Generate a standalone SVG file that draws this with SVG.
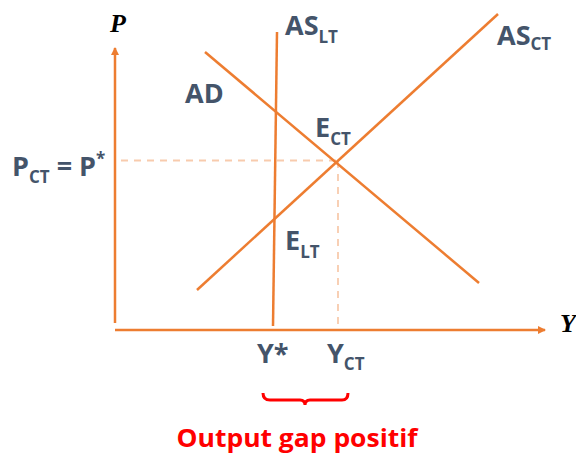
<svg xmlns="http://www.w3.org/2000/svg" width="576" height="454" viewBox="0 0 576 454">
<style>
.ln{stroke:#ED7D31;stroke-width:2.5;fill:none}
.dash{stroke:#F8CBAD;stroke-width:1.8;stroke-dasharray:7,6;fill:none}
.lbl{font-family:"Open Sans","Liberation Sans",sans-serif;font-weight:bold;fill:#44546A;font-size:27px}
.sub{font-size:17px}
.ax{font-family:"Liberation Serif",serif;font-style:italic;font-weight:bold;font-size:26px;fill:#000}
</style>
<defs>
<marker id="arr" markerWidth="8" markerHeight="8" refX="7" refY="4" orient="auto" markerUnits="userSpaceOnUse">
<path d="M0,0 L8,4 L0,8 Z" fill="#ED7D31"/>
</marker>
</defs>
<rect width="576" height="454" fill="#fff"/>
<g id="connectors">
<line class="dash" x1="121" y1="160.5" x2="338" y2="160.5"/>
<line class="dash" x1="338" y1="161" x2="338" y2="329"/>
<line class="ln" x1="115" y1="323" x2="115" y2="48" marker-end="url(#arr)"/>
<line class="ln" x1="115" y1="330" x2="545" y2="330" marker-end="url(#arr)"/>
<line id="as-lt" class="ln" x1="277" y1="32" x2="273" y2="326"/>
<line id="ad" class="ln" x1="205" y1="52" x2="479" y2="283"/>
<line id="as-ct" class="ln" x1="197" y1="290" x2="498" y2="14"/>
</g>
<g id="axis-p"><text class="ax" x="110" y="32">P</text></g>
<g id="axis-y"><text class="ax" x="560" y="332">Y</text></g>
<g id="label-aslt"><text class="lbl" x="285" y="35">AS<tspan class="sub" dy="8">LT</tspan></text></g>
<g id="label-asct"><text class="lbl" x="497" y="45">AS<tspan class="sub" dy="5">CT</tspan></text></g>
<g id="label-ad"><text class="lbl" x="185" y="103">AD</text></g>
<g id="label-ect"><text class="lbl" x="315" y="137">E<tspan class="sub" dy="8">CT</tspan></text></g>
<g id="label-elt"><text class="lbl" x="285" y="250">E<tspan class="sub" dy="8">LT</tspan></text></g>
<g id="label-pct"><text class="lbl" x="12" y="176" font-size="29">P<tspan class="sub" dy="7">CT</tspan><tspan dy="-7"> = P</tspan><tspan class="sub" dy="-11">*</tspan></text></g>
<g id="label-ystar"><text class="lbl" x="257" y="363" font-size="23">Y*</text></g>
<g id="label-yct"><text class="lbl" x="327" y="363" font-size="23">Y<tspan class="sub" dy="7">CT</tspan></text></g>
<g id="gap">
<path d="M263,393 Q263,400 270,400 L300,400 Q305,400 305,405 Q305,400 310,400 L342,400 Q348,400 348,393" stroke="#FF0000" stroke-width="3" fill="none"/>
<text x="297" y="447" text-anchor="middle" font-family="Open Sans, Liberation Sans, sans-serif" font-weight="bold" font-size="25" fill="#FF0000" textLength="241" lengthAdjust="spacingAndGlyphs">Output gap positif</text>
</g>
</svg>
